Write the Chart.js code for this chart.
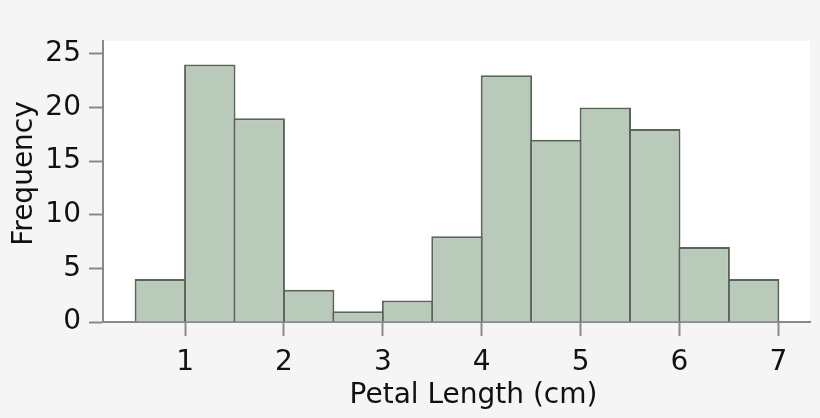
<!DOCTYPE html>
<html lang="en">
<head>
    <meta charset="UTF-8">
    <title>Petal Length Histogram</title>
    <script src="https://cdn.jsdelivr.net/npm/chart.js"></script>
    <style>
        html, body { margin: 0; padding: 0; background: #f5f5f5; }
        #wrap { width: 820px; height: 418px; }
    </style>
</head>
<body>
    <div id="wrap"><canvas id="histChart"></canvas></div>

    <script>
    // bin centres (cm), width 0.5, and counts per bin
    const binCenters = [0.75, 1.25, 1.75, 2.25, 2.75, 3.25, 3.75, 4.25, 4.75, 5.25, 5.75, 6.25, 6.75];
    const counts = [4, 24, 19, 3, 1, 2, 8, 23, 17, 20, 18, 7, 4];
    const xTicks = [1, 2, 3, 4, 5, 6, 7];
    const yTicks = [0, 5, 10, 15, 20, 25];
    const xTitle = 'Petal Length (cm)';
    const yTitle = 'Frequency';

    const axisGray = '#8a8a8a';
    const textColor = '#111';
    const fontFamily = '"DejaVu Sans", sans-serif';

    // white plot area on the grey page
    const plotBackground = {
        id: 'plotBackground',
        beforeDraw(chart) {
            const { ctx, chartArea } = chart;
            ctx.save();
            ctx.fillStyle = '#ffffff';
            ctx.fillRect(chartArea.left, chartArea.top, chartArea.right - chartArea.left, chartArea.bottom - chartArea.top);
            ctx.restore();
        }
    };

    // axis titles sit a little off-centre in the original, so place them by hand
    const axisTitles = {
        id: 'axisTitles',
        afterDraw(chart) {
            const { ctx } = chart;
            ctx.save();
            ctx.fillStyle = textColor;
            ctx.font = '28px ' + fontFamily;
            ctx.textAlign = 'center';
            ctx.textBaseline = 'alphabetic';
            ctx.fillText(xTitle, 473.5, 403);
            ctx.translate(31.5, 173.5);
            ctx.rotate(-Math.PI / 2);
            ctx.fillText(yTitle, 0, 0);
            ctx.restore();
        }
    };

    const ctx = document.getElementById('histChart').getContext('2d');
    new Chart(ctx, {
        type: 'bar',
        data: {
            datasets: [{
                label: yTitle,
                data: binCenters.map((x, i) => ({ x: x, y: counts[i] })),
                backgroundColor: '#b9c9ba',
                borderColor: '#5b6459',
                borderWidth: 2,
                borderSkipped: 'start',
                // a touch wider than the bin so neighbouring borders overlap into one line
                barPercentage: 1.04,
                categoryPercentage: 1
            }]
        },
        options: {
            responsive: true,
            maintainAspectRatio: false,
            animation: false,
            layout: { padding: { top: 41, right: 10, left: 0, bottom: 0 } },
            plugins: {
                legend: { display: false },
                tooltip: { enabled: false }
            },
            scales: {
                x: {
                    type: 'linear',
                    offset: false,
                    min: 0.17,
                    max: 7.32,
                    afterBuildTicks: (scale) => { scale.ticks = xTicks.map(v => ({ value: v })); },
                    afterFit: (scale) => { scale.height = 96; },
                    grid: {
                        offset: false,
                        drawOnChartArea: false,
                        drawTicks: true,
                        tickLength: 14,
                        tickWidth: 2,
                        tickColor: axisGray
                    },
                    border: { display: true, color: axisGray, width: 2 },
                    ticks: {
                        padding: 10,
                        color: textColor,
                        font: { family: fontFamily, size: 28 }
                    },
                    title: { display: false }
                },
                y: {
                    min: 0,
                    max: 26.2,
                    afterBuildTicks: (scale) => { scale.ticks = yTicks.map(v => ({ value: v })); },
                    afterFit: (scale) => { scale.width = 103; },
                    grid: {
                        drawOnChartArea: false,
                        drawTicks: true,
                        tickLength: 14,
                        tickWidth: 2,
                        tickColor: axisGray
                    },
                    border: { display: true, color: axisGray, width: 2 },
                    ticks: {
                        padding: 8,
                        color: textColor,
                        font: { family: fontFamily, size: 28 }
                    },
                    title: { display: false }
                }
            }
        },
        plugins: [plotBackground, axisTitles]
    });
    </script>
</body>
</html>
